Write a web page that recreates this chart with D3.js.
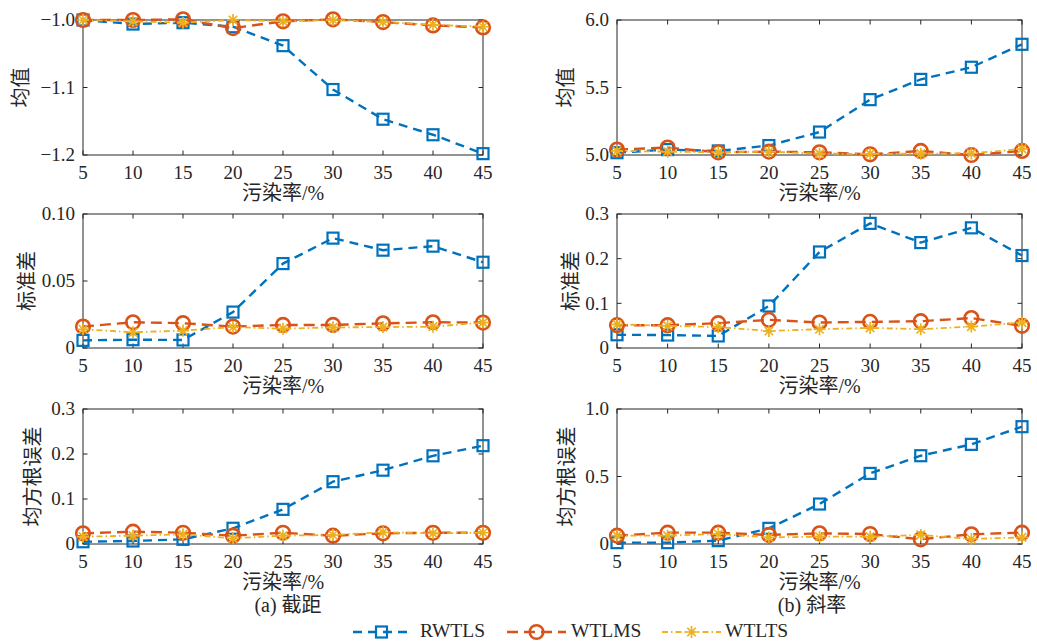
<!DOCTYPE html>
<html><head><meta charset="utf-8">
<script src="https://cdn.jsdelivr.net/npm/d3@7"></script>
<style>
html,body{margin:0;padding:0;background:#fff;}
svg text{fill:#262626;}
</style></head>
<body><svg id="c" width="1037" height="642"></svg>
<script>
// ---------- data ----------
const rates = [5, 10, 15, 20, 25, 30, 35, 40, 45];
const seriesNames = ["RWTLS", "WTLMS", "WTLTS"];
const xLabel = "污染率/%";

// (a) intercept
const meanInterceptRWTLS = [-1.000, -1.006, -1.004, -1.010, -1.038, -1.103, -1.147, -1.170, -1.198];
const meanInterceptWTLMS = [-1.000, -1.000, -0.999, -1.012, -1.002, -0.999, -1.003, -1.008, -1.011];
const meanInterceptWTLTS = [-1.000, -1.002, -1.004, -1.000, -1.002, -1.000, -1.003, -1.007, -1.010];
const stdInterceptRWTLS = [0.0057, 0.0062, 0.0060, 0.0268, 0.0630, 0.0820, 0.0730, 0.0760, 0.0640];
const stdInterceptWTLMS = [0.0160, 0.0192, 0.0185, 0.0160, 0.0172, 0.0172, 0.0184, 0.0192, 0.0190];
const stdInterceptWTLTS = [0.0140, 0.0117, 0.0130, 0.0156, 0.0144, 0.0154, 0.0156, 0.0159, 0.0190];
const rmseInterceptRWTLS = [0.0050, 0.0067, 0.0104, 0.0350, 0.0770, 0.1385, 0.1640, 0.1960, 0.2185];
const rmseInterceptWTLMS = [0.0237, 0.0274, 0.0250, 0.0185, 0.0250, 0.0185, 0.0237, 0.0250, 0.0250];
const rmseInterceptWTLTS = [0.0163, 0.0185, 0.0215, 0.0126, 0.0185, 0.0200, 0.0260, 0.0237, 0.0250];

// (b) slope
const meanSlopeRWTLS = [5.017, 5.040, 5.030, 5.070, 5.170, 5.410, 5.560, 5.650, 5.820];
const meanSlopeWTLMS = [5.040, 5.055, 5.020, 5.025, 5.020, 5.005, 5.030, 5.000, 5.030];
const meanSlopeWTLTS = [5.030, 5.025, 5.020, 5.025, 5.010, 5.008, 5.010, 5.012, 5.045];
const stdSlopeRWTLS = [0.0296, 0.0290, 0.0270, 0.0940, 0.2150, 0.2790, 0.2360, 0.2690, 0.2070];
const stdSlopeWTLMS = [0.0510, 0.0510, 0.0556, 0.0630, 0.0570, 0.0585, 0.0600, 0.0670, 0.0496];
const stdSlopeWTLTS = [0.0530, 0.0496, 0.0470, 0.0380, 0.0420, 0.0450, 0.0420, 0.0480, 0.0570];
const rmseSlopeRWTLS = [0.010, 0.010, 0.025, 0.116, 0.296, 0.523, 0.654, 0.738, 0.869];
const rmseSlopeWTLMS = [0.062, 0.084, 0.084, 0.067, 0.079, 0.074, 0.035, 0.072, 0.084];
const rmseSlopeWTLTS = [0.062, 0.062, 0.074, 0.049, 0.054, 0.054, 0.067, 0.037, 0.049];

// tick values / labels
const meanInterceptTicks = [-1.2, -1.1, -1.0];
const meanInterceptTickLabels = ["\u22121.2", "\u22121.1", "\u22121.0"];
const stdInterceptTicks = [0, 0.05, 0.10];
const stdInterceptTickLabels = ["0", "0.05", "0.10"];
const rmseInterceptTicks = [0, 0.1, 0.2, 0.3];
const rmseInterceptTickLabels = ["0", "0.1", "0.2", "0.3"];
const meanSlopeTicks = [5.0, 5.5, 6.0];
const meanSlopeTickLabels = ["5.0", "5.5", "6.0"];
const stdSlopeTicks = [0, 0.1, 0.2, 0.3];
const stdSlopeTickLabels = ["0", "0.1", "0.2", "0.3"];
const rmseSlopeTicks = [0, 0.5, 1.0];
const rmseSlopeTickLabels = ["0", "0.5", "1.0"];

const yLabels = ["均值", "标准差", "均方根误差"];
const captions = ["(a) 截距", "(b) 斜率"];

// ---------- styles ----------
const FONT = "'Liberation Serif', 'Times New Roman', 'Noto Sans CJK SC', serif";
const colors = ["#0072BD", "#D95319", "#EDB120"];
const dashes = ["9,6", "11,6", "6,3,1.5,3"];
const widths = [2.4, 2.4, 1.8];
const axisColor = "#262626";

const svg = d3.select("#c");

const cols = [{x0: 83, x1: 483}, {x0: 617, x1: 1022}];
const rows = [{y0: 20, y1: 155}, {y0: 214, y1: 348}, {y0: 409, y1: 544}];
const yLabelX = [[21, 27, 33], [566, 571, 567]];

const panels = [
  {c: 0, r: 0, dom: [-1.2, -1.0], ticks: meanInterceptTicks, labels: meanInterceptTickLabels, data: [meanInterceptRWTLS, meanInterceptWTLMS, meanInterceptWTLTS]},
  {c: 0, r: 1, dom: [0, 0.10], ticks: stdInterceptTicks, labels: stdInterceptTickLabels, data: [stdInterceptRWTLS, stdInterceptWTLMS, stdInterceptWTLTS]},
  {c: 0, r: 2, dom: [0, 0.3], ticks: rmseInterceptTicks, labels: rmseInterceptTickLabels, data: [rmseInterceptRWTLS, rmseInterceptWTLMS, rmseInterceptWTLTS]},
  {c: 1, r: 0, dom: [5.0, 6.0], ticks: meanSlopeTicks, labels: meanSlopeTickLabels, data: [meanSlopeRWTLS, meanSlopeWTLMS, meanSlopeWTLTS]},
  {c: 1, r: 1, dom: [0, 0.3], ticks: stdSlopeTicks, labels: stdSlopeTickLabels, data: [stdSlopeRWTLS, stdSlopeWTLMS, stdSlopeWTLTS]},
  {c: 1, r: 2, dom: [0, 1.0], ticks: rmseSlopeTicks, labels: rmseSlopeTickLabels, data: [rmseSlopeRWTLS, rmseSlopeWTLMS, rmseSlopeWTLTS]}
];

function asteriskPath(s) {
  const d = s * 0.7071;
  return `M${-s},0L${s},0M0,${-s}L0,${s}M${-d},${-d}L${d},${d}M${-d},${d}L${d},${-d}`;
}

function drawMarker(g, i, x, y) {
  if (i === 0) {
    g.append("rect").attr("x", x - 5.5).attr("y", y - 5.5).attr("width", 11).attr("height", 11)
      .attr("fill", "none").attr("stroke", colors[0]).attr("stroke-width", 2.2);
  } else if (i === 1) {
    g.append("circle").attr("cx", x).attr("cy", y).attr("r", 6.8)
      .attr("fill", "none").attr("stroke", colors[1]).attr("stroke-width", 2.6);
  } else {
    g.append("path").attr("transform", `translate(${x},${y})`).attr("d", asteriskPath(6))
      .attr("fill", "none").attr("stroke", colors[2]).attr("stroke-width", 1.7);
  }
}

function txt(g, x, y, s, size, anchor) {
  return g.append("text").attr("x", x).attr("y", y).attr("font-family", FONT)
    .attr("font-size", size).attr("text-anchor", anchor || "start").text(s);
}

panels.forEach(p => {
  const col = cols[p.c], row = rows[p.r];
  const x = d3.scaleLinear().domain([5, 45]).range([col.x0, col.x1]);
  const y = d3.scaleLinear().domain(p.dom).range([row.y1, row.y0]);
  const g = svg.append("g");

  // box
  g.append("rect").attr("x", col.x0).attr("y", row.y0)
    .attr("width", col.x1 - col.x0).attr("height", row.y1 - row.y0)
    .attr("fill", "none").attr("stroke", axisColor).attr("stroke-width", 1);

  // x ticks (inward, mirrored)
  const tl = 4.5;
  rates.forEach(v => {
    g.append("line").attr("x1", x(v)).attr("x2", x(v)).attr("y1", row.y1).attr("y2", row.y1 - tl).attr("stroke", axisColor);
    g.append("line").attr("x1", x(v)).attr("x2", x(v)).attr("y1", row.y0).attr("y2", row.y0 + tl).attr("stroke", axisColor);
    txt(g, x(v), row.y1 + 24, v, 19, "middle");
  });
  // y ticks
  p.ticks.forEach((v, k) => {
    g.append("line").attr("x1", col.x0).attr("x2", col.x0 + tl).attr("y1", y(v)).attr("y2", y(v)).attr("stroke", axisColor);
    g.append("line").attr("x1", col.x1).attr("x2", col.x1 - tl).attr("y1", y(v)).attr("y2", y(v)).attr("stroke", axisColor);
    txt(g, col.x0 - 8, y(v), p.labels[k], 19, "end").attr("dy", "0.34em");
  });

  // labels
  txt(g, (col.x0 + col.x1) / 2, row.y1 + 45, xLabel, 20, "middle");
  const lx = yLabelX[p.c][p.r], ly = (row.y0 + row.y1) / 2;
  txt(g, 0, 0, yLabels[p.r], 20, "middle").attr("transform", `translate(${lx},${ly}) rotate(-90)`).attr("dy", "0.35em");

  // series
  const line = d3.line().x((d, k) => x(rates[k])).y(d => y(d));
  p.data.forEach((arr, i) => {
    g.append("path").attr("d", line(arr)).attr("fill", "none").attr("stroke", colors[i])
      .attr("stroke-width", widths[i]).attr("stroke-dasharray", dashes[i]);
    arr.forEach((v, k) => drawMarker(g, i, x(rates[k]), y(v)));
  });
});

// captions
txt(svg, 288, 612, captions[0], 20, "middle");
txt(svg, 812, 612, captions[1], 20, "middle");

// legend
const legendItems = [{x0: 353, x1: 410, tx: 420}, {x0: 507, x1: 566, tx: 571}, {x0: 662, x1: 721, tx: 725}];
const legY = 632;
legendItems.forEach((it, i) => {
  svg.append("line").attr("x1", it.x0).attr("x2", it.x1).attr("y1", legY).attr("y2", legY)
    .attr("stroke", colors[i]).attr("stroke-width", widths[i]).attr("stroke-dasharray", dashes[i]);
  drawMarker(svg, i, (it.x0 + it.x1) / 2, legY);
  txt(svg, it.tx, 637, seriesNames[i], 19.5);
});
</script></body></html>
